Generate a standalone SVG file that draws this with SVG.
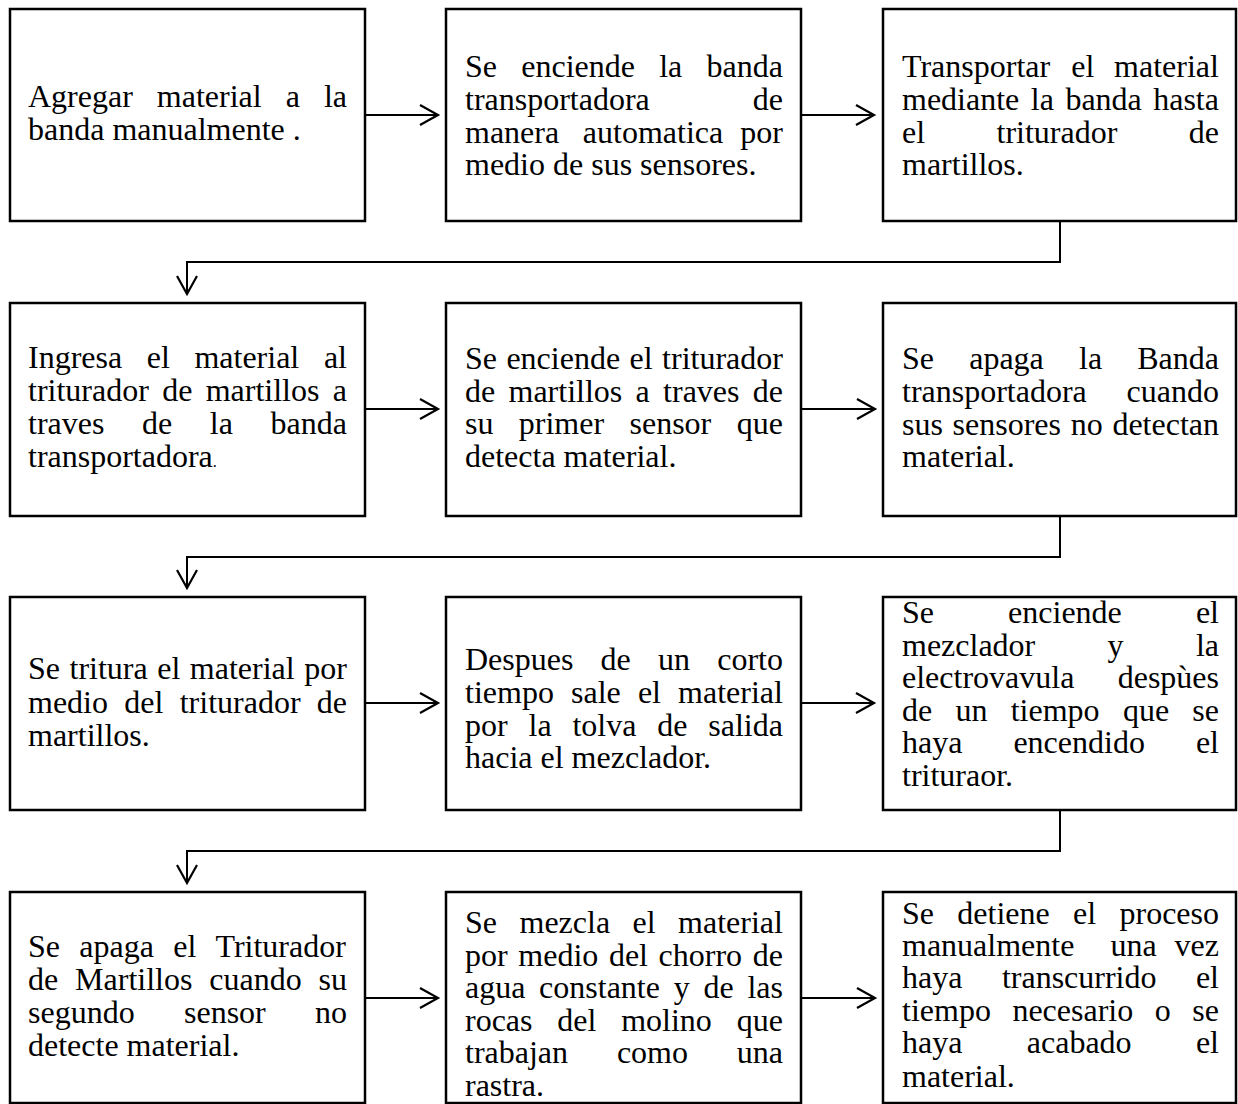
<svg xmlns="http://www.w3.org/2000/svg" width="1238" height="1104" viewBox="0 0 1238 1104">
<style>
.box{fill:#fff;stroke:#000;stroke-width:2.5}
.t{font-family:"Liberation Serif","Times New Roman",serif;font-size:32px;fill:#000}
.c{fill:none;stroke:#000;stroke-width:2}
</style>
<defs>
<marker id="arr" markerWidth="22" markerHeight="24" refX="19" refY="11" orient="auto" markerUnits="userSpaceOnUse">
<path d="M1,1 L19,11 L1,21" fill="none" stroke="#000" stroke-width="2.2"/>
</marker>
</defs>
<rect width="1238" height="1104" fill="#fff"/>

<g id="n1">
<rect class="box" x="10" y="9" width="355" height="212"/>
<text class="t"><tspan x="28" y="107">Agregar</tspan><tspan x="156.8" y="107">material</tspan><tspan x="285.7" y="107">a</tspan><tspan x="323.9" y="107">la</tspan><tspan x="28" y="140">banda manualmente .</tspan></text>
</g>

<g id="n2">
<rect class="box" x="446" y="9" width="355" height="212"/>
<text class="t"><tspan x="465" y="77">Se</tspan><tspan x="521.3" y="77">enciende</tspan><tspan x="659.2" y="77">la</tspan><tspan x="706.6" y="77">banda</tspan><tspan x="465" y="110">transportadora</tspan><tspan x="752.8" y="110">de</tspan><tspan x="465" y="143">manera</tspan><tspan x="582.8" y="143">automatica</tspan><tspan x="740.3" y="143">por</tspan><tspan x="465" y="175">medio de sus sensores.</tspan></text>
</g>

<g id="n3">
<rect class="box" x="883" y="9" width="353" height="212"/>
<text class="t"><tspan x="902" y="77">Transportar</tspan><tspan x="1071.2" y="77">el</tspan><tspan x="1114.1" y="77">material</tspan><tspan x="902" y="110">mediante</tspan><tspan x="1030.8" y="110">la</tspan><tspan x="1065.4" y="110">banda</tspan><tspan x="1153.2" y="110">hasta</tspan><tspan x="902" y="143">el</tspan><tspan x="996.5" y="143">triturador</tspan><tspan x="1188.8" y="143">de</tspan><tspan x="902" y="175">martillos.</tspan></text>
</g>

<g id="n4">
<rect class="box" x="10" y="303" width="355" height="213"/>
<text class="t"><tspan x="28" y="368">Ingresa</tspan><tspan x="146.8" y="368">el</tspan><tspan x="194.4" y="368">material</tspan><tspan x="323.9" y="368">al</tspan><tspan x="28" y="401">triturador</tspan><tspan x="162.2" y="401">de</tspan><tspan x="205.7" y="401">martillos</tspan><tspan x="332.8" y="401">a</tspan><tspan x="28" y="434">traves</tspan><tspan x="142" y="434">de</tspan><tspan x="209.8" y="434">la</tspan><tspan x="270.6" y="434">banda</tspan><tspan x="28" y="467">transportadora</tspan><tspan font-size="16">.</tspan></text>
</g>

<g id="n5">
<rect class="box" x="446" y="303" width="355" height="213"/>
<text class="t"><tspan x="465" y="369">Se</tspan><tspan x="506.4" y="369">enciende</tspan><tspan x="629.5" y="369">el</tspan><tspan x="662.1" y="369">triturador</tspan><tspan x="465" y="402">de</tspan><tspan x="508.5" y="402">martillos</tspan><tspan x="635.6" y="402">a</tspan><tspan x="663.1" y="402">traves</tspan><tspan x="752.8" y="402">de</tspan><tspan x="465" y="434">su</tspan><tspan x="518.8" y="434">primer</tspan><tspan x="629.5" y="434">sensor</tspan><tspan x="736.8" y="434">que</tspan><tspan x="465" y="467">detecta material.</tspan></text>
</g>

<g id="n6">
<rect class="box" x="883" y="303" width="353" height="213"/>
<text class="t"><tspan x="902" y="369">Se</tspan><tspan x="969.2" y="369">apaga</tspan><tspan x="1079" y="369">la</tspan><tspan x="1137.2" y="369">Banda</tspan><tspan x="902" y="402">transportadora</tspan><tspan x="1126.6" y="402">cuando</tspan><tspan x="902" y="435">sus</tspan><tspan x="952.6" y="435">sensores</tspan><tspan x="1070.7" y="435">no</tspan><tspan x="1112.4" y="435">detectan</tspan><tspan x="902" y="467">material.</tspan></text>
</g>

<g id="n7">
<rect class="box" x="10" y="597" width="355" height="213"/>
<text class="t"><tspan x="28" y="679">Se</tspan><tspan x="69.5" y="679">tritura</tspan><tspan x="157.2" y="679">el</tspan><tspan x="189.8" y="679">material</tspan><tspan x="304.3" y="679">por</tspan><tspan x="28" y="713">medio</tspan><tspan x="124.3" y="713">del</tspan><tspan x="179.7" y="713">triturador</tspan><tspan x="316.8" y="713">de</tspan><tspan x="28" y="746">martillos.</tspan></text>
</g>

<g id="n8">
<rect class="box" x="446" y="597" width="355" height="213"/>
<text class="t"><tspan x="465" y="670">Despues</tspan><tspan x="600.6" y="670">de</tspan><tspan x="658" y="670">un</tspan><tspan x="717.2" y="670">corto</tspan><tspan x="465" y="703">tiempo</tspan><tspan x="571" y="703">sale</tspan><tspan x="637.9" y="703">el</tspan><tspan x="678.1" y="703">material</tspan><tspan x="465" y="736">por</tspan><tspan x="528.5" y="736">la</tspan><tspan x="572.4" y="736">tolva</tspan><tspan x="657.2" y="736">de</tspan><tspan x="708.3" y="736">salida</tspan><tspan x="465" y="768">hacia el mezclador.</tspan></text>
</g>

<g id="n9">
<rect class="box" x="883" y="597" width="353" height="213"/>
<text class="t"><tspan x="902" y="623">Se</tspan><tspan x="1008.1" y="623">enciende</tspan><tspan x="1195.9" y="623">el</tspan><tspan x="902" y="656">mezclador</tspan><tspan x="1107.6" y="656">y</tspan><tspan x="1195.9" y="656">la</tspan><tspan x="902" y="688">electrovavula</tspan><tspan x="1117.7" y="688">despùes</tspan><tspan x="902" y="721">de</tspan><tspan x="955.5" y="721">un</tspan><tspan x="1010.7" y="721">tiempo</tspan><tspan x="1122.9" y="721">que</tspan><tspan x="1192.3" y="721">se</tspan><tspan x="902" y="753">haya</tspan><tspan x="1013.4" y="753">encendido</tspan><tspan x="1195.9" y="753">el</tspan><tspan x="902" y="786">trituraor.</tspan></text>
</g>

<g id="n10">
<rect class="box" x="10" y="892" width="355" height="211"/>
<text class="t"><tspan x="28" y="957">Se</tspan><tspan x="79.3" y="957">apaga</tspan><tspan x="173.2" y="957">el</tspan><tspan x="215.5" y="957">Triturador</tspan><tspan x="28" y="990">de</tspan><tspan x="75.1" y="990">Martillos</tspan><tspan x="209.3" y="990">cuando</tspan><tspan x="318.6" y="990">su</tspan><tspan x="28" y="1023">segundo</tspan><tspan x="184" y="1023">sensor</tspan><tspan x="315" y="1023">no</tspan><tspan x="28" y="1056">detecte material.</tspan></text>
</g>

<g id="n11">
<rect class="box" x="446" y="892" width="355" height="211"/>
<text class="t"><tspan x="465" y="933">Se</tspan><tspan x="519.5" y="933">mezcla</tspan><tspan x="632.6" y="933">el</tspan><tspan x="678.1" y="933">material</tspan><tspan x="465" y="966">por</tspan><tspan x="518.3" y="966">medio</tspan><tspan x="608.9" y="966">del</tspan><tspan x="658.6" y="966">chorro</tspan><tspan x="752.8" y="966">de</tspan><tspan x="465" y="998">agua</tspan><tspan x="539.1" y="998">constante</tspan><tspan x="673.7" y="998">y</tspan><tspan x="703.4" y="998">de</tspan><tspan x="747.4" y="998">las</tspan><tspan x="465" y="1031">rocas</tspan><tspan x="557.3" y="1031">del</tspan><tspan x="621.2" y="1031">molino</tspan><tspan x="736.8" y="1031">que</tspan><tspan x="465" y="1063">trabajan</tspan><tspan x="616.9" y="1063">como</tspan><tspan x="736.8" y="1063">una</tspan><tspan x="465" y="1096">rastra.</tspan></text>
</g>

<g id="n12">
<rect class="box" x="883" y="892" width="353" height="211"/>
<text class="t"><tspan x="902" y="924">Se</tspan><tspan x="957.3" y="924">detiene</tspan><tspan x="1073" y="924">el</tspan><tspan x="1119.5" y="924">proceso</tspan><tspan x="902" y="956">manualmente</tspan><tspan x="1110.4" y="956">una</tspan><tspan x="1174.6" y="956">vez</tspan><tspan x="902" y="988">haya</tspan><tspan x="1001.9" y="988">transcurrido</tspan><tspan x="1195.9" y="988">el</tspan><tspan x="902" y="1021">tiempo</tspan><tspan x="1012.4" y="1021">necesario</tspan><tspan x="1154.7" y="1021">o</tspan><tspan x="1192.3" y="1021">se</tspan><tspan x="902" y="1053">haya</tspan><tspan x="1026.8" y="1053">acabado</tspan><tspan x="1195.9" y="1053">el</tspan><tspan x="902" y="1087">material.</tspan></text>
</g>

<g id="connectors">
<path class="c" d="M365,115 H438" marker-end="url(#arr)"/>
<path class="c" d="M801,115 H874" marker-end="url(#arr)"/>
<path class="c" d="M1060,221 V262 H187 V294" marker-end="url(#arr)"/>
<path class="c" d="M365,409 H438" marker-end="url(#arr)"/>
<path class="c" d="M801,409 H875" marker-end="url(#arr)"/>
<path class="c" d="M1060,516 V557 H187 V588" marker-end="url(#arr)"/>
<path class="c" d="M365,703 H438" marker-end="url(#arr)"/>
<path class="c" d="M801,703 H874" marker-end="url(#arr)"/>
<path class="c" d="M1060,810 V851 H187 V883" marker-end="url(#arr)"/>
<path class="c" d="M365,998 H438" marker-end="url(#arr)"/>
<path class="c" d="M801,998 H875" marker-end="url(#arr)"/>
</g>
</svg>
